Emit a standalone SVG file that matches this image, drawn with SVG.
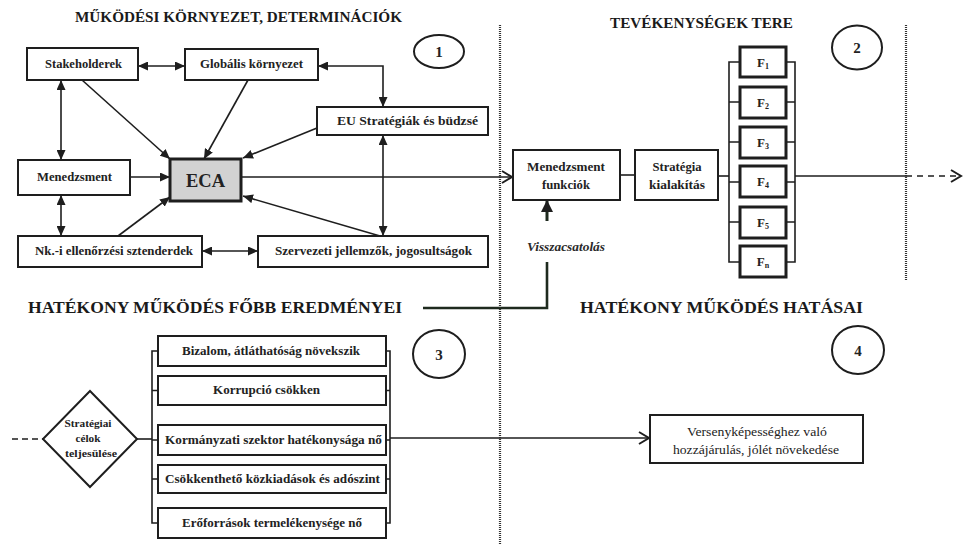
<svg xmlns="http://www.w3.org/2000/svg" width="967" height="545" viewBox="0 0 967 545">
<defs>
<marker id="fa" markerUnits="userSpaceOnUse" markerWidth="10" markerHeight="9" refX="10" refY="4.5" orient="auto-start-reverse">
<path d="M0,0 L10,4.5 L0,9 z" fill="#1e1e1e"/>
</marker>
<marker id="fab" markerUnits="userSpaceOnUse" markerWidth="12" markerHeight="12" refX="11" refY="6" orient="auto">
<path d="M0,0 L12,6 L0,12 z" fill="#1e1e1e"/>
</marker>
<marker id="oa" markerUnits="userSpaceOnUse" markerWidth="14" markerHeight="14" refX="11" refY="7" orient="auto">
<path d="M1,1 L11,7 L1,13" fill="none" stroke="#1e1e1e" stroke-width="2"/>
</marker>
</defs>
<style>
text{font-family:'Liberation Serif','Times New Roman',Tinos,'DejaVu Serif',serif}
.bx{fill:#fff;stroke:#1e1e1e;stroke-width:2}
.bxt{fill:#fff;stroke:#1e1e1e;stroke-width:3}
.t{font-weight:bold;fill:#222;text-anchor:middle}
.s11{font-size:12px}
.fl{font-size:13px}
.h{font-weight:bold;fill:#1a1a1a}
.ln{fill:none;stroke:#1e1e1e;stroke-width:1.6}
.dot{fill:none;stroke:#333;stroke-width:2.2;stroke-dasharray:1 1}
.circ{fill:#fff;stroke:#1e1e1e;stroke-width:2}
</style>
<rect width="967" height="545" fill="#fff"/>

<!-- headings -->
<g id="headings">
<text class="h" x="75" y="22" font-size="15" textLength="327" lengthAdjust="spacingAndGlyphs">MŰKÖDÉSI KÖRNYEZET, DETERMINÁCIÓK</text>
<text class="h" x="610" y="28" font-size="14" textLength="183" lengthAdjust="spacingAndGlyphs">TEVÉKENYSÉGEK TERE</text>
<text class="h" x="28" y="313" font-size="17" textLength="374" lengthAdjust="spacingAndGlyphs">HATÉKONY MŰKÖDÉS FŐBB EREDMÉNYEI</text>
<text class="h" x="580" y="313" font-size="17" textLength="283" lengthAdjust="spacingAndGlyphs">HATÉKONY MŰKÖDÉS HATÁSAI</text>
</g>

<!-- dividers -->
<g id="dividers">
<line class="dot" x1="500" y1="25" x2="500" y2="545"/>
<line class="dot" x1="906" y1="25" x2="906" y2="280"/>
</g>

<!-- circles -->
<g id="c1"><ellipse class="circ" cx="439" cy="51.5" rx="25" ry="16.5"/><text class="t" x="439" y="57" font-size="15">1</text></g>
<g id="c2"><ellipse class="circ" cx="857" cy="47.5" rx="25" ry="22"/><text class="t" x="857" y="53" font-size="15">2</text></g>
<g id="c3"><ellipse class="circ" cx="439" cy="354" rx="26" ry="24"/><text class="t" x="439" y="360" font-size="15">3</text></g>
<g id="c4"><ellipse class="circ" cx="858" cy="350" rx="26" ry="24"/><text class="t" x="858" y="356" font-size="15">4</text></g>

<!-- connectors -->
<g id="connectors">
<line class="ln" x1="138" y1="66" x2="185" y2="66" marker-start="url(#fa)" marker-end="url(#fa)"/>
<path class="ln" d="M318,66 H383 V107" marker-start="url(#fa)" marker-end="url(#fa)"/>
<line class="ln" x1="61" y1="80" x2="61" y2="160" marker-start="url(#fa)" marker-end="url(#fa)"/>
<line class="ln" x1="61" y1="195" x2="61" y2="236" marker-start="url(#fa)" marker-end="url(#fa)"/>
<line class="ln" x1="383" y1="135" x2="383" y2="236" marker-start="url(#fa)" marker-end="url(#fa)"/>
<line class="ln" x1="202" y1="251" x2="258" y2="251" marker-start="url(#fa)" marker-end="url(#fa)"/>
<line class="ln" x1="82" y1="80" x2="170" y2="159" marker-end="url(#fa)"/>
<line class="ln" x1="248" y1="80" x2="204" y2="159" marker-end="url(#fa)"/>
<line class="ln" x1="317" y1="128" x2="243" y2="158" marker-end="url(#fa)"/>
<line class="ln" x1="130" y1="177" x2="170" y2="177" marker-end="url(#fa)"/>
<line class="ln" x1="118" y1="236" x2="170" y2="197" marker-end="url(#fa)"/>
<line class="ln" x1="380" y1="236" x2="243" y2="196" marker-end="url(#fa)"/>
<line class="ln" x1="241" y1="177" x2="512" y2="177" marker-end="url(#oa)"/>
<line class="ln" x1="620" y1="175" x2="635" y2="175"/>
<line class="ln" x1="718" y1="176" x2="729" y2="176"/>
<path class="ln" d="M740,62 H729 V262 H740 M729,102 H740 M729,142 H740 M729,182 H740 M729,222 H740"/>
<path class="ln" d="M786,62 H795 V262 H786 M795,102 H786 M795,142 H786 M795,182 H786 M795,222 H786"/>
<line class="ln" x1="795" y1="176" x2="906" y2="176"/>
<line class="ln" x1="906" y1="176" x2="961" y2="176" stroke-dasharray="6 5" marker-end="url(#oa)"/>
<path d="M423,308 H547 V262" fill="none" stroke="#1e2a1e" stroke-width="2.6"/>
<line x1="547" y1="221" x2="547" y2="201" stroke="#1e2a1e" stroke-width="3" marker-end="url(#fab)"/>
<line class="ln" x1="12" y1="439" x2="43" y2="439" stroke-dasharray="6 4"/>
<line class="ln" x1="137" y1="439" x2="152" y2="439"/>
<path class="ln" d="M158,351 H152 V523 H158 M152,390.5 H158 M152,440 H158 M152,479 H158"/>
<path class="ln" d="M386,351 H390 V523 H386 M390,390.5 H386 M390,440 H386 M390,479 H386"/>
<line class="ln" x1="390" y1="438" x2="649" y2="438" marker-end="url(#oa)"/>
</g>

<!-- section 1 nodes -->
<g id="stakeholderek"><rect class="bx" x="27" y="48" width="111" height="32"/><text class="t s11" x="83.5" y="68" textLength="77" lengthAdjust="spacingAndGlyphs">Stakeholderek</text></g>
<g id="globalis"><rect class="bx" x="185" y="49" width="133" height="31"/><text class="t s11" x="251.5" y="68" textLength="103" lengthAdjust="spacingAndGlyphs">Globális környezet</text></g>
<g id="eu"><rect class="bx" x="317" y="107" width="171" height="28"/><text class="t s11" x="407.5" y="125" textLength="141" lengthAdjust="spacingAndGlyphs">EU Stratégiák és büdzsé</text></g>
<g id="menedzsment"><rect class="bx" x="18" y="160" width="112" height="35"/><text class="t s11" x="74.5" y="181" textLength="75" lengthAdjust="spacingAndGlyphs">Menedzsment</text></g>
<g id="eca"><rect x="170" y="159" width="71" height="42" fill="#d2d2d2" stroke="#1e1e1e" stroke-width="3"/><text class="t" x="205.5" y="187" font-size="18" textLength="39" lengthAdjust="spacingAndGlyphs">ECA</text></g>
<g id="nk"><rect class="bx" x="18" y="236" width="184" height="31"/><text class="t s11" x="114" y="255" textLength="158" lengthAdjust="spacingAndGlyphs">Nk.-i ellenőrzési sztenderdek</text></g>
<g id="szervezeti"><rect class="bx" x="258" y="236" width="230" height="31"/><text class="t s11" x="373.5" y="255" textLength="197" lengthAdjust="spacingAndGlyphs">Szervezeti jellemzők, jogosultságok</text></g>

<!-- section 2 nodes -->
<g id="menfunk"><rect class="bx" x="513" y="150" width="107" height="50"/><text class="t s11" x="566" y="171" textLength="78" lengthAdjust="spacingAndGlyphs">Menedzsment</text><text class="t s11" x="566" y="189" textLength="48" lengthAdjust="spacingAndGlyphs">funkciók</text></g>
<g id="strategia"><rect class="bx" x="635" y="150" width="83" height="50"/><text class="t s11" x="677" y="171" textLength="49" lengthAdjust="spacingAndGlyphs">Stratégia</text><text class="t s11" x="677" y="189" textLength="56" lengthAdjust="spacingAndGlyphs">kialakítás</text></g>
<g id="f1"><rect class="bxt" x="740" y="47" width="46" height="30"/><text class="t fl" x="763" y="66.5">F<tspan font-size="8" dy="2">1</tspan></text></g>
<g id="f2"><rect class="bxt" x="740" y="87" width="46" height="31"/><text class="t fl" x="763" y="106.5">F<tspan font-size="8" dy="2">2</tspan></text></g>
<g id="f3"><rect class="bxt" x="740" y="127" width="46" height="31"/><text class="t fl" x="763" y="146.5">F<tspan font-size="8" dy="2">3</tspan></text></g>
<g id="f4"><rect class="bxt" x="740" y="166" width="46" height="31"/><text class="t fl" x="763" y="185.5">F<tspan font-size="8" dy="2">4</tspan></text></g>
<g id="f5"><rect class="bxt" x="740" y="207" width="46" height="31"/><text class="t fl" x="763" y="226.5">F<tspan font-size="8" dy="2">5</tspan></text></g>
<g id="fn"><rect class="bxt" x="740" y="246" width="46" height="31"/><text class="t fl" x="763" y="265.5">F<tspan font-size="8" dy="2">n</tspan></text></g>
<g id="visszacsatolas"><text x="566" y="251" font-style="italic" font-weight="bold" font-size="12" fill="#2a2a2a" text-anchor="middle" textLength="78" lengthAdjust="spacingAndGlyphs">Visszacsatolás</text></g>

<!-- section 3 nodes -->
<g id="diamond"><polygon points="90,391 137,439 90,487 43,439" fill="#fff" stroke="#1e1e1e" stroke-width="2"/>
<text class="t" x="88" y="427" font-size="11" textLength="47" lengthAdjust="spacingAndGlyphs">Stratégiai</text><text class="t" x="88" y="442" font-size="11" textLength="25" lengthAdjust="spacingAndGlyphs">célok</text><text class="t" x="91" y="457" font-size="11" textLength="52" lengthAdjust="spacingAndGlyphs">teljesülése</text></g>
<g id="bizalom"><rect class="bx" x="158" y="336" width="228" height="30"/><text class="t s11" x="271" y="355" textLength="178" lengthAdjust="spacingAndGlyphs">Bizalom, átláthatóság növekszik</text></g>
<g id="korrupcio"><rect class="bx" x="158" y="376" width="228" height="29"/><text class="t s11" x="266.5" y="394" textLength="107" lengthAdjust="spacingAndGlyphs">Korrupció csökken</text></g>
<g id="kormanyzati"><rect class="bx" x="158" y="425" width="228" height="30"/><text class="t" x="273.5" y="444" font-size="12.5" textLength="217" lengthAdjust="spacingAndGlyphs">Kormányzati szektor hatékonysága nő</text></g>
<g id="csokkentheto"><rect class="bx" x="158" y="465" width="228" height="28"/><text class="t" x="272.5" y="483" font-size="12.5" textLength="215" lengthAdjust="spacingAndGlyphs">Csökkenthető közkiadások és adószint</text></g>
<g id="eroforrasok"><rect class="bx" x="158" y="508" width="228" height="30"/><text class="t s11" x="272" y="527" textLength="180" lengthAdjust="spacingAndGlyphs">Erőforrások termelékenysége nő</text></g>

<!-- section 4 node -->
<g id="versenykepesseg"><rect class="bx" x="650" y="415" width="213" height="48"/>
<text x="757" y="436" font-size="12" fill="#222" text-anchor="middle" textLength="140" lengthAdjust="spacingAndGlyphs">Versenyképességhez való</text>
<text x="756" y="454" font-size="12" fill="#222" text-anchor="middle" textLength="166" lengthAdjust="spacingAndGlyphs">hozzájárulás, jólét növekedése</text></g>
</svg>
